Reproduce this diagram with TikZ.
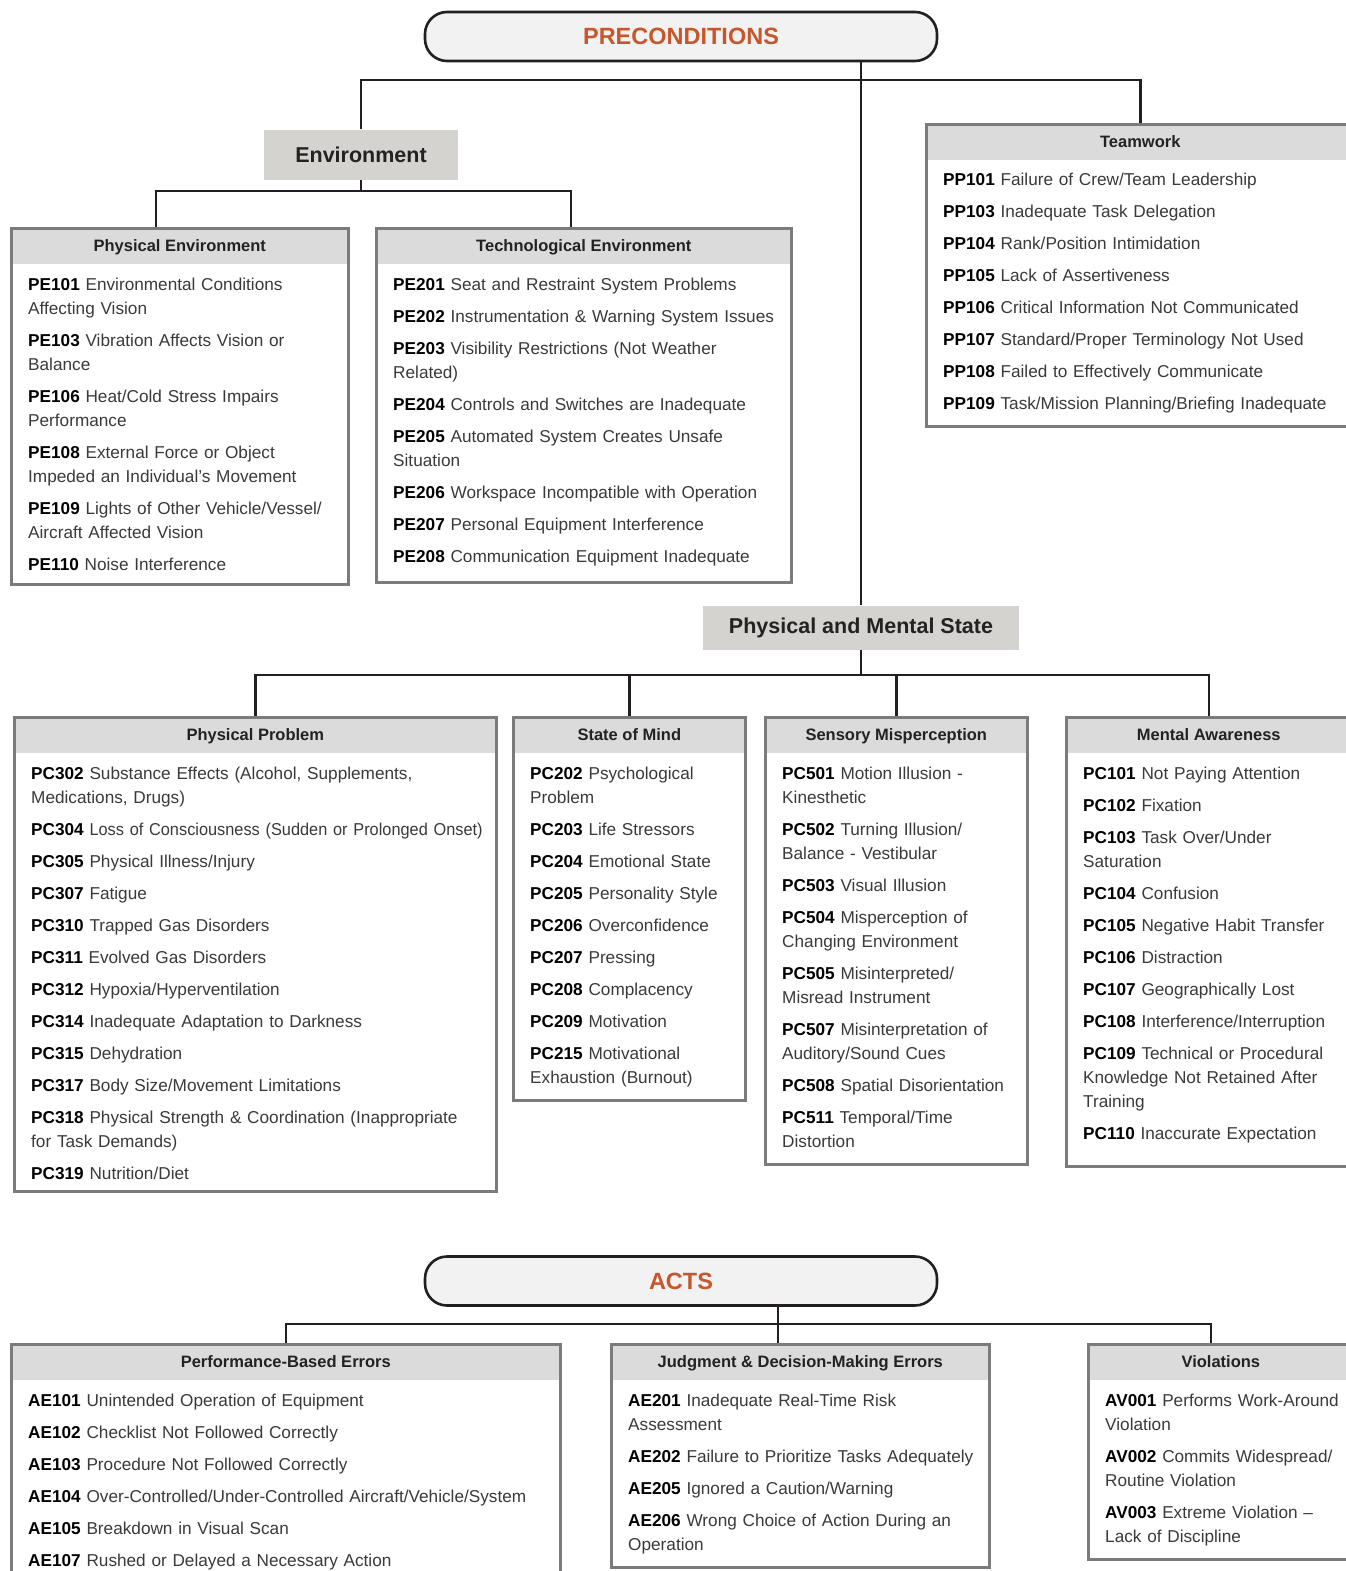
\documentclass[tikz,border=0pt]{standalone}
\usepackage{fontspec}
\setmainfont{Liberation Sans}
\usetikzlibrary{positioning}

\definecolor{lineblack}{HTML}{231F20}
\definecolor{bordergray}{HTML}{7B7B7B}
\definecolor{hdrgray}{HTML}{DCDBDB}
\definecolor{catgray}{HTML}{D5D3CF}
\definecolor{pillgray}{HTML}{F2F2F2}
\definecolor{rustorange}{HTML}{C8562B}
\definecolor{titlegray}{HTML}{222222}
\definecolor{bodygray}{HTML}{3A3A3A}

\newcommand{\code}[1]{\textbf{\color{black}#1}}
\newcommand{\firstline}{\rule{0pt}{13pt}}

\tikzset{
  conn/.style={draw=lineblack,line width=2.6pt},
  pill/.style={draw=lineblack,line width=2.6pt,fill=pillgray,rounded corners=22pt,
    minimum width=512pt,minimum height=49pt,text=rustorange,
    font=\fontsize{23.5}{23.5}\selectfont\bfseries},
  catbox/.style={fill=catgray,text=titlegray,font=\fontsize{21.5}{21.5}\selectfont\bfseries},
  frame/.style={draw=bordergray,line width=2.6pt,fill=white,anchor=north west,inner sep=0pt,
    path picture={\fill[hdrgray] (path picture bounding box.north west)
      rectangle ([yshift=-36pt]path picture bounding box.north east);}},
  boxtitle/.style={text=titlegray,text height=12.3pt,text depth=3.6pt,
    font=\fontsize{16.5}{20}\selectfont\bfseries},
  itemlist/.style={anchor=north west,inner sep=0pt,align=left,text width=600pt,
    text=bodygray,font=\fontsize{17.2}{24}\selectfont}
}

\begin{document}
\begin{tikzpicture}[x=1pt,y=-1pt]
\useasboundingbox (0,0) rectangle (1346,1571);

% preconditions
\node[pill] (pre) at (681,36.5) {PRECONDITIONS};
\node[catbox,minimum width=194pt,minimum height=50pt] (env) at (361,154.5) {Environment};
\node[catbox,minimum width=316pt,minimum height=44pt] (pms) at (861,627.5) {Physical and Mental State};

\node[frame,minimum width=337pt,minimum height=356pt] (physenv) at (10,227) {};
\node[boxtitle] (physenv-t) at ([yshift=-20pt]physenv.north) {Physical Environment};
\node[itemlist] (physenv-l) at ([xshift=18pt,yshift=-50pt]physenv.north west) {\firstline
  \code{PE101} Environmental Conditions\\ Affecting Vision\\[8pt]
  \code{PE103} Vibration Affects Vision or\\ Balance\\[8pt]
  \code{PE106} Heat/Cold Stress Impairs\\ Performance\\[8pt]
  \code{PE108} External Force or Object\\ Impeded an Individual’s Movement\\[8pt]
  \code{PE109} Lights of Other Vehicle/Vessel/\\ Aircraft Affected Vision\\[8pt]
  \code{PE110} Noise Interference};

\node[frame,minimum width=415pt,minimum height=354pt] (techenv) at (375,227) {};
\node[boxtitle] (techenv-t) at ([yshift=-20pt]techenv.north) {Technological Environment};
\node[itemlist] (techenv-l) at ([xshift=18pt,yshift=-50pt]techenv.north west) {\firstline
  \code{PE201} Seat and Restraint System Problems\\[8pt]
  \code{PE202} Instrumentation \& Warning System Issues\\[8pt]
  \code{PE203} Visibility Restrictions (Not Weather\\ Related)\\[8pt]
  \code{PE204} Controls and Switches are Inadequate\\[8pt]
  \code{PE205} Automated System Creates Unsafe\\ Situation\\[8pt]
  \code{PE206} Workspace Incompatible with Operation\\[8pt]
  \code{PE207} Personal Equipment Interference\\[8pt]
  \code{PE208} Communication Equipment Inadequate};

\node[frame,minimum width=428pt,minimum height=302pt] (teamwork) at (925,123) {};
\node[boxtitle] (teamwork-t) at ([yshift=-20pt]teamwork.north) {Teamwork};
\node[itemlist] (teamwork-l) at ([xshift=18pt,yshift=-49pt]teamwork.north west) {\firstline
  \code{PP101} Failure of Crew/Team Leadership\\[8pt]
  \code{PP103} Inadequate Task Delegation\\[8pt]
  \code{PP104} Rank/Position Intimidation\\[8pt]
  \code{PP105} Lack of Assertiveness\\[8pt]
  \code{PP106} Critical Information Not Communicated\\[8pt]
  \code{PP107} Standard/Proper Terminology Not Used\\[8pt]
  \code{PP108} Failed to Effectively Communicate\\[8pt]
  \code{PP109} Task/Mission Planning/Briefing Inadequate};

\node[frame,minimum width=482pt,minimum height=474pt] (physprob) at (13,716) {};
\node[boxtitle] (physprob-t) at ([yshift=-20pt]physprob.north) {Physical Problem};
\node[itemlist] (physprob-l) at ([xshift=18pt,yshift=-50pt]physprob.north west) {\firstline
  \code{PC302} Substance Effects (Alcohol, Supplements,\\ Medications, Drugs)\\[8pt]
  \code{PC304} {\addfontfeature{FakeStretch=0.95}Loss of Consciousness (Sudden or Prolonged Onset)}\\[8pt]
  \code{PC305} Physical Illness/Injury\\[8pt]
  \code{PC307} Fatigue\\[8pt]
  \code{PC310} Trapped Gas Disorders\\[8pt]
  \code{PC311} Evolved Gas Disorders\\[8pt]
  \code{PC312} Hypoxia/Hyperventilation\\[8pt]
  \code{PC314} Inadequate Adaptation to Darkness\\[8pt]
  \code{PC315} Dehydration\\[8pt]
  \code{PC317} Body Size/Movement Limitations\\[8pt]
  \code{PC318} Physical Strength \& Coordination (Inappropriate\\ for Task Demands)\\[8pt]
  \code{PC319} Nutrition/Diet};

\node[frame,minimum width=232pt,minimum height=383pt] (mind) at (512,716) {};
\node[boxtitle] (mind-t) at ([yshift=-20pt]mind.north) {State of Mind};
\node[itemlist] (mind-l) at ([xshift=18pt,yshift=-50pt]mind.north west) {\firstline
  \code{PC202} Psychological\\ Problem\\[8pt]
  \code{PC203} Life Stressors\\[8pt]
  \code{PC204} Emotional State\\[8pt]
  \code{PC205} Personality Style\\[8pt]
  \code{PC206} Overconfidence\\[8pt]
  \code{PC207} Pressing\\[8pt]
  \code{PC208} Complacency\\[8pt]
  \code{PC209} Motivation\\[8pt]
  \code{PC215} Motivational\\ Exhaustion (Burnout)};

\node[frame,minimum width=262pt,minimum height=447pt] (sensory) at (764,716) {};
\node[boxtitle] (sensory-t) at ([yshift=-20pt]sensory.north) {Sensory Misperception};
\node[itemlist] (sensory-l) at ([xshift=18pt,yshift=-50pt]sensory.north west) {\firstline
  \code{PC501} Motion Illusion -\\ Kinesthetic\\[8pt]
  \code{PC502} Turning Illusion/\\ Balance - Vestibular\\[8pt]
  \code{PC503} Visual Illusion\\[8pt]
  \code{PC504} Misperception of\\ Changing Environment\\[8pt]
  \code{PC505} Misinterpreted/\\ Misread Instrument\\[8pt]
  \code{PC507} Misinterpretation of\\ Auditory/Sound Cues\\[8pt]
  \code{PC508} Spatial Disorientation\\[8pt]
  \code{PC511} Temporal/Time\\ Distortion};

\node[frame,minimum width=285pt,minimum height=449pt] (mental) at (1065,716) {};
\node[boxtitle] (mental-t) at ([yshift=-20pt]mental.north) {Mental Awareness};
\node[itemlist] (mental-l) at ([xshift=18pt,yshift=-50pt]mental.north west) {\firstline
  \code{PC101} Not Paying Attention\\[8pt]
  \code{PC102} Fixation\\[8pt]
  \code{PC103} Task Over/Under\\ Saturation\\[8pt]
  \code{PC104} Confusion\\[8pt]
  \code{PC105} Negative Habit Transfer\\[8pt]
  \code{PC106} Distraction\\[8pt]
  \code{PC107} Geographically Lost\\[8pt]
  \code{PC108} Interference/Interruption\\[8pt]
  \code{PC109} Technical or Procedural\\ Knowledge Not Retained After\\ Training\\[8pt]
  \code{PC110} Inaccurate Expectation};

% acts
\node[pill] (acts) at (681,1281) {ACTS};

\node[frame,minimum width=549pt,minimum height=270pt] (perf) at (10,1343) {};
\node[boxtitle] (perf-t) at ([yshift=-20pt]perf.north) {Performance-Based Errors};
\node[itemlist] (perf-l) at ([xshift=18pt,yshift=-50pt]perf.north west) {\firstline
  \code{AE101} Unintended Operation of Equipment\\[8pt]
  \code{AE102} Checklist Not Followed Correctly\\[8pt]
  \code{AE103} Procedure Not Followed Correctly\\[8pt]
  \code{AE104} Over-Controlled/Under-Controlled Aircraft/Vehicle/System\\[8pt]
  \code{AE105} Breakdown in Visual Scan\\[8pt]
  \code{AE107} Rushed or Delayed a Necessary Action};

\node[frame,minimum width=378pt,minimum height=223pt] (judg) at (610,1343) {};
\node[boxtitle] (judg-t) at ([yshift=-20pt]judg.north) {Judgment \& Decision-Making Errors};
\node[itemlist] (judg-l) at ([xshift=18pt,yshift=-50pt]judg.north west) {\firstline
  \code{AE201} Inadequate Real-Time Risk\\ Assessment\\[8pt]
  \code{AE202} Failure to Prioritize Tasks Adequately\\[8pt]
  \code{AE205} Ignored a Caution/Warning\\[8pt]
  \code{AE206} Wrong Choice of Action During an\\ Operation};

\node[frame,minimum width=265pt,minimum height=215pt] (viol) at (1087,1343) {};
\node[boxtitle] (viol-t) at ([yshift=-20pt]viol.north) {Violations};
\node[itemlist] (viol-l) at ([xshift=18pt,yshift=-50pt]viol.north west) {\firstline
  \code{AV001} Performs Work-Around\\ Violation\\[8pt]
  \code{AV002} Commits Widespread/\\ Routine Violation\\[8pt]
  \code{AV003} Extreme Violation –\\ Lack of Discipline};

% connectors
\coordinate (prebar) at (861,80);
\coordinate (envbar) at (361,191);
\coordinate (pmsbar) at (861,675);
\coordinate (actbar) at (778,1324);
\draw[conn] (pre.south -| pms.north) -- (pms.north);
\draw[conn] (env.north) |- (prebar) -| (teamwork.north);
\draw[conn] (env.south) -- (envbar);
\draw[conn] ([xshift=146pt]physenv.north west) |- (envbar) -| ([xshift=196pt]techenv.north west);
\draw[conn] (pms.south) -- (pmsbar);
\draw[conn] (physprob.north) |- (pmsbar) -| (mental.north);
\draw[conn] (mind.north) -- (mind.north |- pmsbar);
\draw[conn] (sensory.north) -- (sensory.north |- pmsbar);
\coordinate (jtop) at ([xshift=168pt]judg.north west);
\draw[conn] (acts.south -| jtop) -- (jtop);
\draw[conn] (perf.north) |- (actbar) -| ([xshift=124pt]viol.north west);
\end{tikzpicture}
\end{document}
